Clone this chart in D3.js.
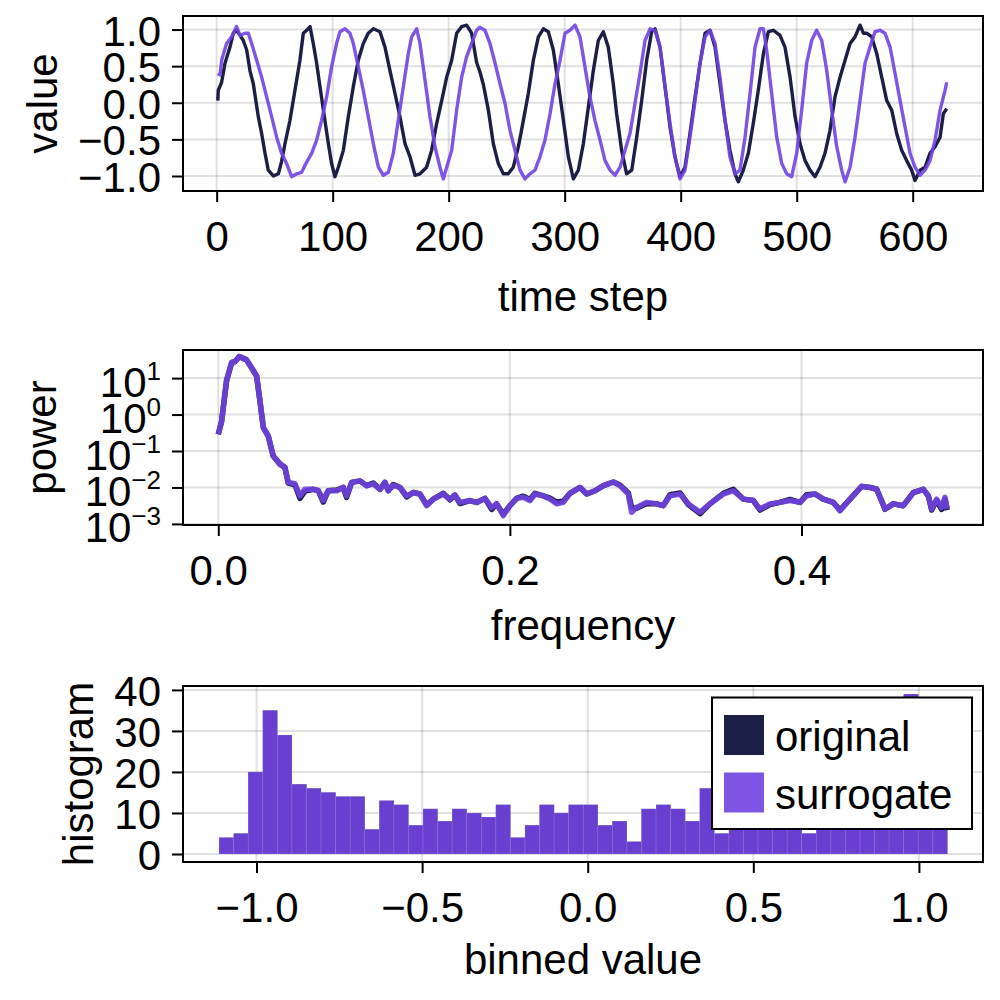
<!DOCTYPE html>
<html><head><meta charset="utf-8">
<script src="https://cdn.jsdelivr.net/npm/d3@7"></script>
<style>
body{margin:0;background:#fff}
svg{display:block}
text{font-family:"Liberation Sans",Arial,Helvetica,sans-serif}
</style>
</head><body>
<svg id="chart" width="1000" height="1000"></svg>
<script>
// ---------------- DATA ----------------
// Panel 1: time series (time step, value)
const origT = [1, 1.4, 4.3, 7.2, 11.5, 14.4, 17.2, 20.1, 23, 25.9, 28.7, 31.6, 35.9, 38.8, 41.7, 44.5, 48.9, 53.2, 56, 58.9, 63.2, 67.5, 71.8, 74.7, 77.6, 80.5, 83.3, 86.2, 89.1, 92, 96.3, 99.1, 102, 104.9, 109.2, 113.5, 117.8, 122.1, 126.4, 130.7, 135.1, 140.8, 145.1, 149.4, 153.7, 158, 162.4, 166.7, 171, 175.3, 181, 185.3, 189.7, 194, 198.3, 202.6, 206.9, 211.2, 215.5, 219.8, 224.1, 227, 229.9, 234.2, 238.5, 242.8, 247.1, 251.4, 255.7, 260.1, 264.4, 268.7, 273, 277.3, 281.6, 285.9, 290.2, 294.5, 298.9, 303.2, 307.5, 311.8, 316.1, 320.4, 324.7, 329, 333.3, 337.6, 341.9, 344.8, 349.1, 353.4, 357.8, 362.1, 366.4, 370.7, 375, 377.9, 382.2, 386.5, 390.8, 395.1, 399.4, 403.7, 408, 412.4, 416.7, 421, 425.3, 429.6, 433.9, 438.2, 442.5, 446.8, 449.7, 454, 458.3, 462.6, 466.9, 471.3, 475.6, 479.9, 485.6, 489.9, 494.3, 498.6, 502.9, 507.2, 511.5, 515.8, 520.1, 524.4, 528.7, 533, 537.4, 541.7, 546, 550.3, 554.6, 557.5, 560.3, 564.7, 569, 573.3, 577.6, 581.9, 586.2, 590.5, 594.8, 599.1, 602, 606.3, 610.6, 614.9, 619.3, 623.6, 626.4, 629.3];
const origV = [0.03, 0.17, 0.28, 0.54, 0.76, 0.95, 0.99, 0.92, 0.85, 0.72, 0.44, 0.26, -0.19, -0.42, -0.69, -0.92, -1.0, -0.97, -0.8, -0.56, -0.24, 0.17, 0.58, 0.95, 0.99, 1.04, 0.81, 0.54, 0.22, -0.1, -0.56, -0.83, -1.01, -0.88, -0.65, -0.19, 0.22, 0.58, 0.81, 0.95, 1.01, 0.97, 0.76, 0.44, 0.13, -0.19, -0.56, -0.74, -0.99, -0.97, -0.88, -0.65, -0.28, 0.03, 0.35, 0.58, 0.95, 1.04, 1.06, 0.95, 0.55, 0.42, 0.25, -0.1, -0.56, -0.83, -0.97, -0.97, -0.88, -0.6, -0.24, 0.13, 0.58, 0.9, 1.01, 0.97, 0.72, 0.26, -0.24, -0.74, -1.04, -0.92, -0.56, -0.06, 0.44, 0.85, 0.97, 0.76, 0.26, -0.15, -0.65, -0.97, -0.92, -0.47, 0.03, 0.58, 0.97, 1.01, 0.76, 0.22, -0.33, -0.74, -1.01, -0.88, -0.42, 0.08, 0.54, 0.95, 0.99, 0.76, 0.26, -0.24, -0.65, -0.97, -1.08, -0.92, -0.69, -0.28, 0.17, 0.67, 0.97, 0.99, 0.92, 0.76, 0.35, -0.19, -0.56, -0.79, -0.92, -1.01, -0.88, -0.69, -0.38, 0.08, 0.35, 0.58, 0.81, 0.9, 1.06, 0.95, 0.95, 0.9, 0.67, 0.35, 0.03, -0.1, -0.42, -0.65, -0.79, -0.92, -1.06, -0.92, -0.88, -0.69, -0.6, -0.47, -0.15, -0.08];
const surrT = [1, 2.9, 4.3, 8.6, 12.9, 17.2, 20.1, 24.4, 27.3, 30.2, 34.5, 38.8, 43.1, 47.4, 51.7, 56, 60.3, 64.7, 69, 73.3, 77.6, 81.9, 86.2, 90.5, 94.8, 99.1, 103.4, 106.3, 110.6, 114.9, 117.8, 122.1, 126.4, 130.7, 135.1, 139.4, 143.7, 148, 152.3, 156.6, 160.9, 165.2, 168.1, 172.4, 175.3, 179.6, 183.9, 188.2, 192.5, 195.4, 198.3, 202.6, 206.9, 211.2, 215.5, 219.8, 224.1, 227, 231.3, 235.6, 240, 244.3, 248.6, 252.9, 257.2, 261.5, 265.8, 270.1, 274.4, 278.7, 283, 287.4, 291.7, 296, 300.3, 304.6, 308.9, 313.2, 317.5, 321.8, 326.1, 330.5, 334.8, 339.1, 343.4, 347.7, 352, 356.3, 360.6, 364.9, 369.3, 373.6, 377.9, 382.2, 386.5, 390.8, 395.1, 399.4, 403.7, 408, 412.4, 416.7, 421, 425.3, 429.6, 433.9, 438.2, 442.5, 446.8, 451.1, 455.5, 459.8, 464.1, 468.4, 471.3, 474.1, 478.4, 482.8, 487.1, 491.4, 495.7, 500, 504.3, 508.6, 512.9, 517.2, 521.6, 525.9, 530.2, 534.5, 538.8, 541.7, 546, 550.3, 554.6, 558.9, 563.2, 567.5, 571.8, 576.1, 580.5, 584.8, 589.1, 593.4, 597.7, 602, 606.3, 610.6, 614.9, 619.3, 623.6, 627.9, 629.3];
const surrV = [0.4, 0.38, 0.58, 0.81, 0.9, 1.04, 0.92, 0.95, 0.95, 0.81, 0.58, 0.35, 0.08, -0.19, -0.47, -0.69, -0.83, -1.01, -0.97, -0.95, -0.81, -0.69, -0.51, -0.24, 0.08, 0.49, 0.81, 0.97, 1.01, 0.95, 0.81, 0.49, 0.17, -0.19, -0.56, -0.88, -0.99, -0.95, -0.69, -0.24, 0.22, 0.67, 0.9, 1.01, 0.81, 0.31, -0.19, -0.6, -0.88, -1.04, -0.88, -0.65, -0.1, 0.35, 0.63, 0.81, 0.99, 1.03, 0.99, 0.81, 0.54, 0.26, -0.01, -0.38, -0.65, -0.92, -1.04, -0.97, -0.92, -0.74, -0.51, -0.15, 0.26, 0.58, 0.95, 0.99, 1.06, 0.9, 0.49, 0.08, -0.24, -0.51, -0.79, -0.92, -0.99, -0.88, -0.65, -0.42, -0.01, 0.4, 0.85, 1.01, 0.99, 0.76, 0.22, -0.28, -0.74, -1.04, -0.92, -0.47, 0.03, 0.54, 0.9, 0.99, 0.81, 0.35, -0.24, -0.74, -0.97, -0.92, -0.47, 0.13, 0.76, 1.01, 1.01, 0.72, 0.13, -0.47, -0.83, -0.97, -1.01, -0.69, -0.1, 0.54, 0.85, 0.99, 0.85, 0.44, -0.1, -0.6, -0.92, -1.08, -0.88, -0.47, 0.03, 0.54, 0.76, 0.97, 0.99, 0.95, 0.76, 0.4, 0.03, -0.33, -0.69, -0.88, -0.99, -0.92, -0.79, -0.51, -0.1, 0.17, 0.28];
const timeTicks = [0, 100, 200, 300, 400, 500, 600];
const valueTicks = [-1.0, -0.5, 0.0, 0.5, 1.0];

// Panel 2: power spectrum (frequency, log10 power)
const specFreq = [0, 0.0023, 0.0057, 0.0092, 0.0114, 0.0144, 0.0194, 0.0263, 0.0286, 0.0309, 0.0343, 0.0377, 0.0423, 0.0457, 0.048, 0.0526, 0.056, 0.0594, 0.0652, 0.0686, 0.072, 0.0754, 0.0812, 0.0857, 0.088, 0.0915, 0.0972, 0.1017, 0.1063, 0.1109, 0.1143, 0.1166, 0.12, 0.1246, 0.1292, 0.1337, 0.1383, 0.1429, 0.1475, 0.1543, 0.1589, 0.1623, 0.1658, 0.1726, 0.1772, 0.1829, 0.1875, 0.1909, 0.1955, 0.2, 0.2046, 0.2092, 0.2138, 0.2172, 0.2229, 0.2275, 0.2321, 0.2366, 0.2412, 0.2481, 0.2527, 0.2584, 0.2641, 0.271, 0.2755, 0.2812, 0.2835, 0.2869, 0.2938, 0.3007, 0.3052, 0.3098, 0.3167, 0.3224, 0.3304, 0.3372, 0.3464, 0.3532, 0.3601, 0.367, 0.3715, 0.3784, 0.3852, 0.3921, 0.399, 0.4035, 0.4093, 0.415, 0.4218, 0.4264, 0.4333, 0.4413, 0.447, 0.4516, 0.4573, 0.463, 0.4698, 0.4767, 0.4835, 0.487, 0.4893, 0.4927, 0.4961, 0.4984, 0.5];
const surrLog10Power = [-0.545, -0.18, 0.95, 1.43, 1.45, 1.59, 1.5, 1.06, 0.36, -0.36, -0.59, -1.14, -1.36, -1.45, -1.86, -1.9, -2.23, -2.05, -2.05, -2.09, -2.36, -2.09, -2.09, -2.0, -2.23, -1.86, -1.82, -1.95, -1.9, -2.05, -1.86, -2.09, -1.94, -2.0, -2.23, -2.14, -2.18, -2.5, -2.32, -2.18, -2.32, -2.21, -2.41, -2.36, -2.41, -2.3, -2.55, -2.45, -2.77, -2.5, -2.3, -2.27, -2.36, -2.18, -2.23, -2.32, -2.45, -2.41, -2.16, -2.0, -2.18, -2.09, -1.95, -1.85, -1.95, -2.18, -2.68, -2.55, -2.41, -2.45, -2.5, -2.23, -2.18, -2.45, -2.68, -2.45, -2.18, -2.09, -2.32, -2.36, -2.59, -2.45, -2.41, -2.36, -2.41, -2.23, -2.18, -2.32, -2.41, -2.64, -2.32, -1.97, -2.0, -2.05, -2.59, -2.45, -2.5, -2.14, -2.05, -2.23, -2.59, -2.32, -2.55, -2.27, -2.59];
const origLog10Power = [-0.545, -0.18, 0.93, 1.43, 1.45, 1.59, 1.5, 1.06, 0.36, -0.36, -0.59, -1.14, -1.36, -1.45, -1.88, -1.93, -2.3, -2.1, -2.05, -2.09, -2.4, -2.09, -2.07, -2.0, -2.27, -1.86, -1.82, -1.95, -1.88, -2.05, -1.86, -2.09, -1.92, -2.0, -2.26, -2.14, -2.18, -2.48, -2.32, -2.16, -2.34, -2.21, -2.44, -2.36, -2.41, -2.3, -2.6, -2.45, -2.74, -2.5, -2.3, -2.24, -2.33, -2.16, -2.23, -2.29, -2.4, -2.38, -2.16, -2.0, -2.18, -2.09, -1.95, -1.85, -1.93, -2.15, -2.55, -2.57, -2.44, -2.45, -2.5, -2.2, -2.15, -2.47, -2.72, -2.45, -2.16, -2.05, -2.32, -2.36, -2.62, -2.47, -2.41, -2.33, -2.41, -2.2, -2.18, -2.32, -2.41, -2.62, -2.32, -1.97, -2.0, -2.05, -2.6, -2.45, -2.5, -2.14, -2.05, -2.23, -2.62, -2.36, -2.6, -2.32, -2.62];
const freqTicks = [0.0, 0.2, 0.4];
const powerTicks = [1e-3, 1e-2, 1e-1, 1e0, 1e1];

// Panel 3: histogram (50 bins spanning the value range)
const histRange = [-1.113, 1.086];
const histCountsOriginal = [4, 5, 20, 35, 29, 17, 16, 15, 14, 14, 6, 13, 12, 7, 11, 8, 11, 10, 9, 12, 4, 7, 12, 10, 12, 12, 7, 8, 3, 11, 12, 11, 8, 16, 5, 12, 10, 14, 11, 12, 5, 13, 11, 14, 15, 17, 22, 39, 14, 8];
const histCountsSurrogate = [4, 5, 20, 35, 29, 17, 16, 15, 14, 14, 6, 13, 12, 7, 11, 8, 11, 10, 9, 12, 4, 7, 12, 10, 12, 12, 7, 8, 3, 11, 12, 11, 8, 16, 5, 12, 10, 14, 11, 12, 5, 13, 11, 14, 15, 17, 22, 39, 14, 8];
const binTicks = [-1.0, -0.5, 0.0, 0.5, 1.0];
const countTicks = [0, 10, 20, 30, 40];

const seriesNames = ["original", "surrogate"];

// ---------------- STYLE ----------------
const ORIG = "#1b1e45";
const SURR = "#7143e0";
const SURR_OP = 0.9;
const FS = 42;
const GRID = "rgba(0,0,0,0.12)";
const L = 183, R = 983;

const svg = d3.select("#chart");
svg.append("rect").attr("width",1000).attr("height",1000).attr("fill","#fff");

function fmt1(d){ return (d<0?"\u2212":"") + Math.abs(d).toFixed(1); }
function fmt0(d){ return (d<0?"\u2212":"") + Math.abs(d).toFixed(0); }

function drawPanel(o){
  const g = svg.append("g");
  const {x, y, top, bottom} = o;
  // grid
  g.append("g").selectAll("line").data(o.xTicks).join("line")
    .attr("x1", d=>x(d)).attr("x2", d=>x(d)).attr("y1", top).attr("y2", bottom)
    .attr("stroke", GRID).attr("stroke-width", 2);
  g.append("g").selectAll("line").data(o.yTicks).join("line")
    .attr("y1", d=>y(d)).attr("y2", d=>y(d)).attr("x1", L).attr("x2", R)
    .attr("stroke", GRID).attr("stroke-width", 2);
  const content = g.append("g");
  // axes
  const xa = g.append("g").attr("transform", `translate(0,${bottom})`)
    .call(d3.axisBottom(x).tickValues(o.xTicks).tickFormat(o.xFmt).tickSize(11).tickPadding(19));
  const ya = g.append("g").attr("transform", `translate(${L},0)`)
    .call(d3.axisLeft(y).tickValues(o.yTicks).tickFormat(o.yFmt || (()=>"")).tickSize(11).tickPadding(11));
  [xa, ya].forEach(a=>{
    a.attr("font-size", null).attr("font-family", null);
    a.select(".domain").remove();
    a.selectAll(".tick line").attr("stroke","#000").attr("stroke-width",2);
    a.selectAll(".tick text").attr("fill","#000").style("font-size", FS+"px");
  });
  ya.selectAll(".tick text").attr("dy","0.37em");
  if (o.logLabels){
    ya.selectAll(".tick text").each(function(d){
      const t = d3.select(this);
      t.text(null).attr("dy", 18);
      t.append("tspan").text("10");
      const e = Math.round(Math.log10(d));
      t.append("tspan").attr("dy", -17).style("font-size","26px").text((e<0?"\u2212":"")+Math.abs(e));
    });
  }
  // frame
  g.append("rect").attr("x", L).attr("y", top).attr("width", R-L).attr("height", bottom-top)
    .attr("fill","none").attr("stroke","#000").attr("stroke-width",2);
  // labels
  svg.append("text").attr("x", (L+R)/2).attr("y", o.xLabelY).attr("text-anchor","middle")
    .style("font-size", FS+"px").attr("fill","#000").text(o.xLabel);
  svg.append("text").attr("transform", `translate(${o.yLabelX},${(top+bottom)/2}) rotate(-90)`)
    .attr("text-anchor","middle").style("font-size", FS+"px").attr("fill","#000").text(o.yLabel);
  return content;
}

// ---- Panel 1
{
  const top = 16, bottom = 191;
  const x = d3.scaleLinear().domain([-29, 660.6]).range([L, R]);
  const y = d3.scaleLinear().domain([-1.205, 1.185]).range([bottom, top]);
  const c = drawPanel({x, y, top, bottom, xTicks: timeTicks, yTicks: valueTicks, xFmt: fmt0, yFmt: fmt1,
    xLabel: "time step", xLabelY: 311, yLabel: "value", yLabelX: 57});
  const line = d3.line().x(d=>x(d[0])).y(d=>y(d[1]));
  c.append("path").attr("d", line(d3.zip(origT, origV))).attr("fill","none")
    .attr("stroke", ORIG).attr("stroke-width", 3.4).attr("stroke-linejoin","round");
  c.append("path").attr("d", line(d3.zip(surrT, surrV))).attr("fill","none")
    .attr("stroke", SURR).attr("stroke-opacity", SURR_OP).attr("stroke-width", 3.4).attr("stroke-linejoin","round");
}

// ---- Panel 2
{
  const top = 350, bottom = 525;
  const x = d3.scaleLinear().domain([-0.0242, 0.5245]).range([L, R]);
  const y = d3.scaleLog().domain([Math.pow(10,-3.03), Math.pow(10,1.771)]).range([bottom, top]);
  const c = drawPanel({x, y, top, bottom, xTicks: freqTicks, yTicks: powerTicks, xFmt: fmt1, yFmt: d=>"", logLabels: true,
    xLabel: "frequency", xLabelY: 640, yLabel: "power", yLabelX: 56});
  const line = d3.line().x(d=>x(d[0])).y(d=>y(Math.pow(10, d[1])));
  c.append("path").attr("d", line(d3.zip(specFreq, origLog10Power))).attr("fill","none")
    .attr("stroke", ORIG).attr("stroke-width", 5.5).attr("stroke-linejoin","round");
  c.append("path").attr("d", line(d3.zip(specFreq, surrLog10Power))).attr("fill","none")
    .attr("stroke", SURR).attr("stroke-opacity", SURR_OP).attr("stroke-width", 5.5).attr("stroke-linejoin","round");
}

// ---- Panel 3
{
  const top = 686, bottom = 862;
  const x = d3.scaleLinear().domain([-1.222, 1.1935]).range([L, R]);
  const y = d3.scaleLinear().domain([-1.95, 40.95]).range([bottom, top]);
  const c = drawPanel({x, y, top, bottom, xTicks: binTicks, yTicks: countTicks, xFmt: fmt1, yFmt: fmt0,
    xLabel: "binned value", xLabelY: 974, yLabel: "histogram", yLabelX: 93});
  const binScale = d3.scaleLinear().domain([0, histCountsOriginal.length]).range(histRange);
  function bars(counts, color, op){
    c.append("g").selectAll("rect").data(counts).join("rect")
      .attr("x", (d,i)=>x(binScale(i)))
      .attr("width", (d,i)=>x(binScale(i+1)) - x(binScale(i)))
      .attr("y", d=>y(d)).attr("height", d=>y(0)-y(d))
      .attr("fill", color).attr("fill-opacity", op)
      .attr("stroke", "rgba(255,255,255,0.18)").attr("stroke-width", 0.6);
  }
  bars(histCountsOriginal, ORIG, 1);
  bars(histCountsSurrogate, SURR, SURR_OP);

  // legend
  const lg = svg.append("g");
  lg.append("rect").attr("x", 712).attr("y", 697.5).attr("width", 260).attr("height", 131.5)
    .attr("fill","#fff").attr("stroke","#000").attr("stroke-width",2);
  const lcolors = [ORIG, SURR], lops = [1, SURR_OP];
  seriesNames.forEach((n,i)=>{
    const cy = 735 + i*57.5;
    lg.append("rect").attr("x", 724).attr("y", cy-20).attr("width", 40).attr("height", 40)
      .attr("fill", lcolors[i]).attr("fill-opacity", lops[i]);
    lg.append("text").attr("x", 775).attr("y", cy+16).style("font-size", FS+"px").attr("fill","#000").text(n);
  });
}
</script>
</body></html>
